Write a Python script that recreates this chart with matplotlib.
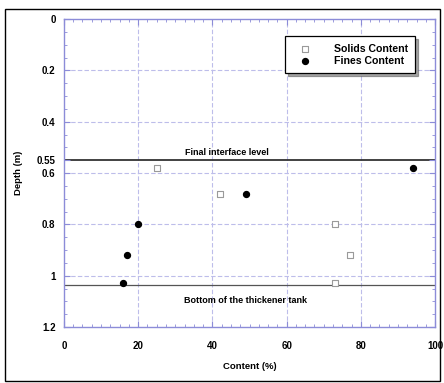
import matplotlib
matplotlib.use("Agg")
import matplotlib.pyplot as plt
from matplotlib.ticker import MultipleLocator, FixedLocator
from matplotlib.patches import Rectangle

plt.rcParams['font.family'] = ['Liberation Sans', 'DejaVu Sans']
plt.rcParams['font.weight'] = 'bold'

# Sampling depths (m) and measured contents (%)
depth = [0.58, 0.68, 0.80, 0.92, 1.03]
solids_content = [25, 42, 73, 77, 73]
fines_content = [94, 49, 20, 17, 16]

interface_level = 0.55
tank_bottom = 1.035

y_ticks = [0, 0.2, 0.4, 0.55, 0.6, 0.8, 1, 1.2]
y_tick_labels = ["0", "0.2", "0.4", "0.55", "0.6", "0.8", "1", "1.2"]
x_ticks = [0, 20, 40, 60, 80, 100]

axis_blue = "#8c8cd8"
grid_blue = "#bdbdea"

fig = plt.figure(figsize=(4.44, 3.83), dpi=100)
ax = fig.add_axes([0.144, 0.146, 0.836, 0.804])

ax.set_xlim(0, 100)
ax.set_ylim(1.2, 0)

ax.xaxis.set_major_locator(FixedLocator(x_ticks))
ax.xaxis.set_minor_locator(MultipleLocator(2.5))
ax.yaxis.set_major_locator(FixedLocator(y_ticks))
ax.set_yticklabels(y_tick_labels)
ax.yaxis.set_minor_locator(MultipleLocator(0.05))

ax.tick_params(which='both', direction='in', top=True, right=True,
               color=axis_blue, labelsize=7)
ax.tick_params(axis='x', which='major', pad=10)
ax.tick_params(axis='y', which='major', pad=6)
ax.tick_params(which='major', length=4)
ax.tick_params(which='minor', length=2)
for s in ax.spines.values():
    s.set_color(axis_blue)
    s.set_linewidth(1.0)

for x in [20, 40, 60, 80]:
    ax.axvline(x, color=grid_blue, lw=0.8, ls=(0, (4, 2)), zorder=0)
for y in [0.2, 0.4, 0.6, 0.8, 1.0]:
    ax.axhline(y, color=grid_blue, lw=0.8, ls=(0, (4, 2)), zorder=0)

ax.axhline(interface_level, color="#333333", lw=1.3, zorder=1)
ax.axhline(tank_bottom, color="#555555", lw=0.9, zorder=1)
ax.text(44, interface_level - 0.012, "Final interface level", fontsize=6.5,
        fontweight='bold', ha='center', va='bottom')
ax.text(49, tank_bottom + 0.06, "Bottom of the thickener tank", fontsize=6.5,
        fontweight='bold', ha='center', va='center')

ax.scatter(solids_content, depth, marker='s', s=14, facecolors='white',
           edgecolors='#9a9a9a', linewidths=0.8, zorder=3, label="Solids Content")
ax.scatter(fines_content, depth, marker='o', s=18, color='black',
           zorder=3, label="Fines Content")

leg = ax.legend(loc='upper right', bbox_to_anchor=(0.955, 0.955), fontsize=7.6,
                frameon=True, fancybox=False, shadow=True, borderpad=0.7,
                handlelength=2.4, handletextpad=1.5, labelspacing=0.2,
                borderaxespad=0.3)
leg.get_frame().set_edgecolor('black')
leg.get_frame().set_linewidth(0.9)

ax.set_xlabel("Content (%)", fontsize=6.8, fontweight='bold', labelpad=8)
ax.set_ylabel("Depth (m)", fontsize=6.8, fontweight='bold', labelpad=10)

fig.patches.append(Rectangle((0.011, 0.005), 0.98, 0.972, transform=fig.transFigure,
                             fill=False, edgecolor='black', lw=1.0))

fig.savefig("out.png", dpi=100)
